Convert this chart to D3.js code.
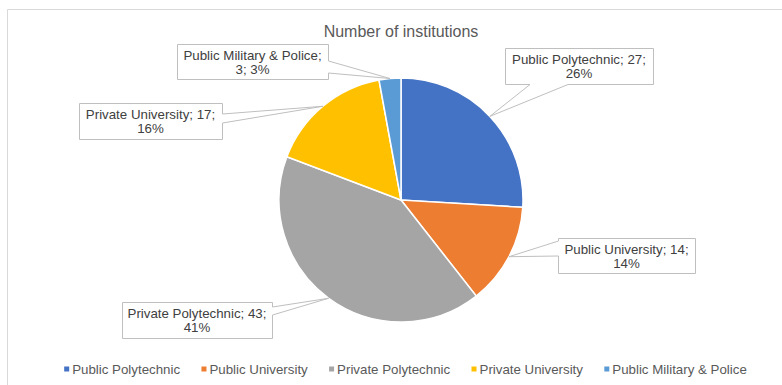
<!DOCTYPE html>
<html>
<head>
<meta charset="utf-8">
<script src="https://cdn.jsdelivr.net/npm/d3@7"></script>
<style>
  html, body { margin: 0; padding: 0; background: #fff; }
  svg { display: block; font-family: "Liberation Sans", Arial, sans-serif; }
</style>
</head>
<body>
<svg id="chart" width="782" height="385"></svg>
<script>
// Institution counts by type
const categories = ["Public Polytechnic", "Public University", "Private Polytechnic", "Private University", "Public Military & Police"];
const counts = [27, 14, 43, 17, 3];
const percentLabels = ["26%", "14%", "41%", "16%", "3%"];
const colors = ["#4472C4", "#ED7D31", "#A5A5A5", "#FFC000", "#5B9BD5"];

const W = 782, H = 385;
const cx = 401, cy = 200, R = 122;

const svg = d3.select("#chart");

// chart frame
svg.append("path")
  .attr("d", `M7.5,${H} V9.5 H${W}`)
  .attr("fill", "none")
  .attr("stroke", "#D9D9D9")
  .attr("stroke-width", 1);

svg.append("text")
  .attr("x", 401).attr("y", 37)
  .attr("text-anchor", "middle")
  .attr("font-size", 16)
  .attr("fill", "#595959")
  .text("Number of institutions");

const data = categories.map((c, i) => ({ name: c, value: counts[i], pct: percentLabels[i], color: colors[i] }));

const pie = d3.pie().value(d => d.value).sort(null);
const arcs = pie(data);
const arc = d3.arc().innerRadius(0).outerRadius(R);

const g = svg.append("g").attr("transform", `translate(${cx},${cy})`);
g.selectAll("path.slice")
  .data(arcs)
  .join("path")
  .attr("class", "slice")
  .attr("d", arc)
  .attr("fill", d => d.data.color)
  .attr("stroke", "#fff")
  .attr("stroke-width", 1.5);

// Callout boxes: box rectangle, side the pointer leaves from, and pointer base span
const callouts = [
  { x: 505, y: 48, w: 148, h: 36, side: "bottom", b0: 530, b1: 568 },
  { x: 558, y: 238, w: 137, h: 35, side: "left", b0: 241, b1: 256 },
  { x: 122, y: 302, w: 150, h: 36, side: "right", b0: 307, b1: 315 },
  { x: 79, y: 103, w: 143, h: 36, side: "right", b0: 114, b1: 123 },
  { x: 177, y: 44, w: 151, h: 35, side: "right", b0: 61, b1: 73 }
];

function calloutPath(c, tip) {
  const x0 = c.x + 0.5, y0 = c.y + 0.5, x1 = c.x + c.w + 0.5, y1 = c.y + c.h + 0.5;
  const p = d3.path();
  p.moveTo(x0, y0);
  if (c.side === "top") { p.lineTo(c.b0, y0); p.lineTo(tip[0], tip[1]); p.lineTo(c.b1, y0); }
  p.lineTo(x1, y0);
  if (c.side === "right") { p.lineTo(x1, c.b0); p.lineTo(tip[0], tip[1]); p.lineTo(x1, c.b1); }
  p.lineTo(x1, y1);
  if (c.side === "bottom") { p.lineTo(c.b1, y1); p.lineTo(tip[0], tip[1]); p.lineTo(c.b0, y1); }
  p.lineTo(x0, y1);
  if (c.side === "left") { p.lineTo(x0, c.b1); p.lineTo(tip[0], tip[1]); p.lineTo(x0, c.b0); }
  p.closePath();
  return p.toString();
}

arcs.forEach((a, i) => {
  const c = callouts[i];
  const mid = (a.startAngle + a.endAngle) / 2;
  const tip = [cx + R * Math.sin(mid), cy - R * Math.cos(mid)];
  svg.append("path")
    .attr("d", calloutPath(c, tip))
    .attr("fill", "#fff")
    .attr("stroke", "#BFBFBF")
    .attr("stroke-width", 1);

  const d = a.data;
  const lines = d.name === "Public Military & Police"
    ? [d.name + ";", d.value + "; " + d.pct]
    : [d.name + "; " + d.value + ";", d.pct];
  const tx = c.x + c.w / 2;
  const t = svg.append("text")
    .attr("text-anchor", "middle")
    .attr("font-size", 13.3)
    .attr("fill", "#404040");
  lines.forEach((ln, k) => {
    t.append("tspan").attr("x", tx).attr("y", c.y + 15.5 + k * 14.7).text(ln);
  });
});

// Legend
const legend = svg.append("g");
const items = legend.selectAll("g.item").data(data).join("g").attr("class", "item");
items.append("rect")
  .attr("width", 5).attr("height", 5)
  .attr("y", -2.5)
  .attr("fill", d => d.color);
items.append("text")
  .attr("x", 8).attr("y", 5)
  .attr("font-size", 13.3)
  .attr("fill", "#595959")
  .text(d => d.name);

const gap = 21;
let widths = [];
items.each(function () { widths.push(this.getBBox().width); });
const total = d3.sum(widths) + gap * (widths.length - 1);
let xpos = 405.5 - total / 2;
items.attr("transform", (d, i) => {
  const x = xpos;
  xpos += widths[i] + gap;
  return `translate(${x},369)`;
});
</script>
</body>
</html>
